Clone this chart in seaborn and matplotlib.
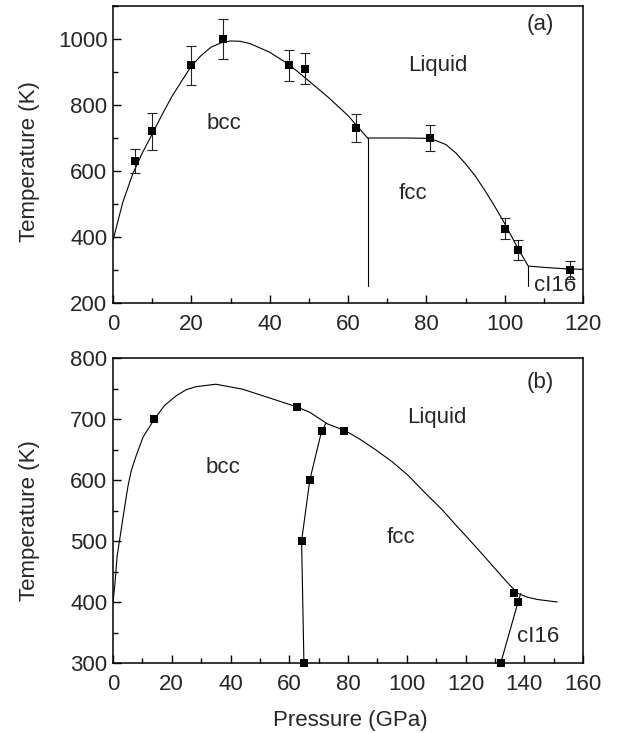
import numpy as np
import pandas as pd
import matplotlib
matplotlib.use('Agg')
import matplotlib.pyplot as plt
from matplotlib.ticker import MultipleLocator
import seaborn as sns

# ---- panel (a): measured points with error bars ----
p_a_pts = [5.5, 10, 20, 28, 45, 49, 62, 81, 100, 103.3, 116.7]
t_a_pts = [630, 720, 920, 1000, 920, 910, 730, 700, 425, 360, 300]
t_a_err = [36, 55, 58, 60, 47, 47, 43, 38, 32, 30, 28]

# panel (a) boundaries
p_a_melt_bcc = [0, 2.5, 5, 7.5, 10, 12.5, 15, 17.5, 20, 22.5, 25, 27.5, 30, 32.5,
                35, 40, 45, 50, 55, 60, 65]
t_a_melt_bcc = [390, 505, 590, 655, 712, 770, 825, 872, 918, 950, 975, 988, 994, 993,
                986, 960, 922, 873, 823, 768, 700]
p_a_melt_fcc = [65, 70, 75, 80, 82.5, 85, 87.5, 90, 92.5, 95, 97.5, 100, 103, 106,
                110, 115, 120]
t_a_melt_fcc = [700, 700, 700, 699, 692, 680, 655, 622, 585, 540, 492, 441, 374, 312,
                308, 304, 302]
p_a_bcc_fcc = [65, 65]
t_a_bcc_fcc = [700, 252]
p_a_fcc_ci16 = [106, 106]
t_a_fcc_ci16 = [312, 252]

# ---- panel (b) ----
p_b_pts = [14, 62.5, 71, 78.8, 67, 64.2, 65, 136.5, 137.9, 132]
t_b_pts = [700, 720, 680, 680, 600, 500, 300, 414, 400, 300]

p_b_melt = [0, 0.6, 1.4, 2.8, 4, 5.1, 6.2, 7.9, 10.2, 14.1, 17.5, 21.5, 24.9, 28.3,
            35, 44, 53, 62.5, 67, 73, 79, 84, 89, 95, 100.6, 106, 111.9, 117.5,
            123.2, 128, 132.2, 135, 137.9, 141, 144.6, 148, 151.2]
t_b_melt = [400, 426, 475, 519, 557, 590, 615, 640, 670, 700, 722, 738, 748, 753,
            757, 749, 735, 720, 711, 692, 681, 667, 651, 630, 607, 580, 552, 522,
            492, 466, 443, 428, 414, 408, 404, 402, 400]
p_b_bcc_fcc = [65, 64.2, 67, 71, 72.5]
t_b_bcc_fcc = [300, 500, 600, 680, 693]
p_b_fcc_ci16 = [132, 137.9, 138.8]
t_b_fcc_ci16 = [300, 400, 414]

sns.set_style('ticks')
plt.rcParams['font.family'] = ['Liberation Sans', 'DejaVu Sans']
plt.rcParams['font.size'] = 16

fig = plt.figure(figsize=(6.2, 7.33), dpi=100)
ax_a = fig.add_axes([113 / 620, 1 - 303 / 733, 470 / 620, 297 / 733])
ax_b = fig.add_axes([113 / 620, 1 - 663 / 733, 470 / 620, 305 / 733])


def draw_line(ax, x, y):
    sns.lineplot(x=x, y=y, sort=False, estimator=None, color='black', lw=0.8, ax=ax)


def draw_squares(ax, x, y):
    sns.scatterplot(x=x, y=y, marker='s', s=32, color='black', edgecolor='black',
                    linewidth=0, ax=ax, zorder=5, clip_on=False)


# panel (a)
draw_line(ax_a, p_a_melt_bcc, t_a_melt_bcc)
draw_line(ax_a, p_a_melt_fcc, t_a_melt_fcc)
draw_line(ax_a, p_a_bcc_fcc, t_a_bcc_fcc)
draw_line(ax_a, p_a_fcc_ci16, t_a_fcc_ci16)
ax_a.errorbar(p_a_pts, t_a_pts, yerr=t_a_err, fmt='none', ecolor='#222222',
              elinewidth=0.8, capsize=3.5, capthick=0.8, zorder=4)
draw_squares(ax_a, p_a_pts, t_a_pts)

# panel (b)
draw_line(ax_b, p_b_melt, t_b_melt)
draw_line(ax_b, p_b_bcc_fcc, t_b_bcc_fcc)
draw_line(ax_b, p_b_fcc_ci16, t_b_fcc_ci16)
draw_squares(ax_b, p_b_pts, t_b_pts)

ax_a.set_xlim(0, 120)
ax_a.set_ylim(200, 1100)
ax_a.xaxis.set_major_locator(MultipleLocator(20))
ax_a.xaxis.set_minor_locator(MultipleLocator(10))
ax_a.yaxis.set_major_locator(MultipleLocator(200))
ax_a.yaxis.set_minor_locator(MultipleLocator(100))

ax_b.set_xlim(0, 160)
ax_b.set_ylim(300, 800)
ax_b.xaxis.set_major_locator(MultipleLocator(20))
ax_b.xaxis.set_minor_locator(MultipleLocator(10))
ax_b.yaxis.set_major_locator(MultipleLocator(100))
ax_b.yaxis.set_minor_locator(MultipleLocator(50))

for ax in (ax_a, ax_b):
    for sp in ax.spines.values():
        sp.set_linewidth(1.1)
        sp.set_color('black')
    ax.tick_params(which='both', direction='in', top=False, right=False,
                   width=1.0, color='black', labelsize=16)
    ax.tick_params(which='major', length=6)
    ax.tick_params(which='minor', length=3.5)
    ax.tick_params(axis='x', pad=8)
    ax.tick_params(axis='y', pad=4)
    ax.set_xlabel('')
    ax.set_ylabel('Temperature (K)', fontsize=16)

ax_a.yaxis.set_label_coords(-0.155, 0.475)
ax_b.yaxis.set_label_coords(-0.155, 0.466)
ax_b.set_xlabel('Pressure (GPa)', fontsize=16)
ax_b.xaxis.set_label_coords(0.504, -0.155)

# region labels
ax_a.text(28.3, 745, 'bcc', ha='center', va='center', fontsize=16)
ax_a.text(83, 921, 'Liquid', ha='center', va='center', fontsize=16)
ax_a.text(76.7, 532, 'fcc', ha='center', va='center', fontsize=16)
ax_a.text(112.8, 252, 'cI16', ha='center', va='center', fontsize=16)
ax_a.text(109, 1045, '(a)', ha='center', va='center', fontsize=16)

ax_b.text(37.5, 620, 'bcc', ha='center', va='center', fontsize=16)
ax_b.text(110.2, 703, 'Liquid', ha='center', va='center', fontsize=16)
ax_b.text(98.1, 506, 'fcc', ha='center', va='center', fontsize=16)
ax_b.text(144.6, 344, 'cI16', ha='center', va='center', fontsize=16)
ax_b.text(145.6, 760, '(b)', ha='center', va='center', fontsize=16)

fig.savefig('out.png', dpi=100)
